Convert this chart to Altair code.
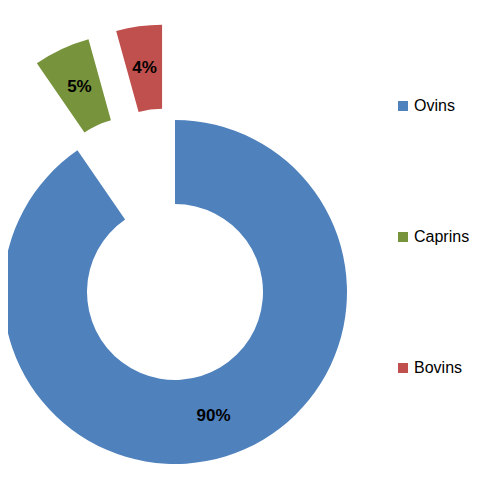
import altair as alt
import pandas as pd

categories = ["Ovins", "Caprins", "Bovins"]
values = [90.4, 5.3, 4.3]
colors = ["#4F81BD", "#77933C", "#C0504D"]

df = pd.DataFrame({"cat": categories, "value": values, "order": list(range(len(categories)))})

CX, CY = 167, 284
R_OUT, R_IN = 172, 88
R_MID = (R_OUT + R_IN) / 2
EXPLODE = 96

base = (
    alt.Chart(df)
    .transform_window(cum="sum(value)", sort=[alt.SortField("order")], frame=[None, 0])
    .transform_joinaggregate(total="sum(value)")
    .transform_calculate(
        t0="(datum.cum - datum.value) / datum.total * 2 * PI",
        t1="datum.cum / datum.total * 2 * PI",
        pct="format(datum.value / datum.total, '.0%')",
    )
    .transform_calculate(
        tm="(datum.t0 + datum.t1) / 2",
        ex=f"datum.cat == 'Ovins' ? 0 : {EXPLODE}",
    )
    .transform_calculate(
        cx=f"{CX} + datum.ex * sin(datum.tm)",
        cy=f"{CY} - datum.ex * cos(datum.tm)",
        lx=f"{CX} + (datum.ex + {R_MID}) * sin(datum.tm)",
        ly=f"{CY} - (datum.ex + {R_MID}) * cos(datum.tm)",
    )
)

arcs = base.mark_arc(radius=R_OUT, innerRadius=R_IN).encode(
    theta=alt.Theta("t0:Q", scale=None, stack=False),
    theta2="t1:Q",
    x=alt.X("cx:Q", scale=None),
    y=alt.Y("cy:Q", scale=None),
    color=alt.Color(
        "cat:N",
        scale=alt.Scale(domain=categories, range=colors),
        legend=alt.Legend(
            title=None,
            orient="none",
            legendX=387,
            legendY=90,
            padding=0,
            symbolType="square",
            symbolSize=100,
            symbolStrokeWidth=0,
            labelFont="Liberation Sans",
            labelFontSize=16,
            labelColor="#000000",
            labelOffset=3,
            rowPadding=115,
        ),
    ),
)

texts = base.mark_text(
    font="Liberation Sans", fontSize=17, fontWeight="bold", color="#000000"
).encode(
    x=alt.X("lx:Q", scale=None),
    y=alt.Y("ly:Q", scale=None),
    text="pct:N",
)

chart = (
    alt.layer(arcs, texts)
    .properties(width=461, height=464, padding=0, autosize=alt.AutoSizeParams(type="none"))
    .configure_view(stroke=None)
)

chart.save("out.html", embed_options={"renderer": "svg", "actions": False})
